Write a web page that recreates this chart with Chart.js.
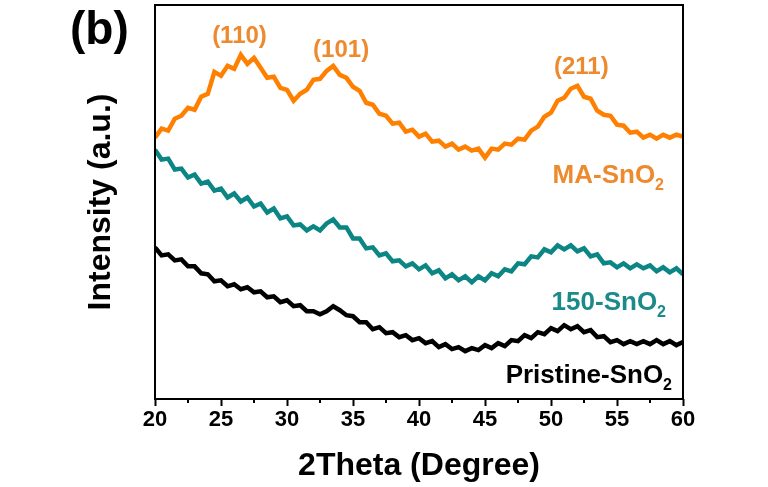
<!DOCTYPE html>
<html>
<head>
<meta charset="utf-8">
<script src="https://cdn.jsdelivr.net/npm/chart.js@4.4.1/dist/chart.umd.min.js"></script>
<style>
  html, body { margin: 0; padding: 0; background: #fff; }
  #wrap { width: 768px; height: 487px; }
</style>
</head>
<body>
<div id="wrap"><canvas id="xrdChart" width="768" height="487"></canvas></div>
<script>
'use strict';

// 2Theta grid (degree)
const twoTheta = [
  20, 20.5, 21, 21.5, 22, 22.5, 23, 23.5, 24, 24.5, 25, 25.5, 26, 26.5, 27, 27.5,
  28, 28.5, 29, 29.5, 30, 30.5, 31, 31.5, 32, 32.5, 33, 33.5, 34, 34.5, 35, 35.5,
  36, 36.5, 37, 37.5, 38, 38.5, 39, 39.5, 40, 40.5, 41, 41.5, 42, 42.5, 43, 43.5,
  44, 44.5, 45, 45.5, 46, 46.5, 47, 47.5, 48, 48.5, 49, 49.5, 50, 50.5, 51, 51.5,
  52, 52.5, 53, 53.5, 54, 54.5, 55, 55.5, 56, 56.5, 57, 57.5, 58, 58.5, 59, 59.5, 60
];

// intensity (a.u., stacked offsets)
const maSnO2 = [
  262, 271, 269, 281, 284, 292, 290, 303, 306, 328, 324, 334, 331, 345, 336, 342,
  332, 322, 323, 312, 310, 299, 306, 310, 320, 321, 329, 334, 325, 322, 313, 309,
  297, 295, 286, 284, 276, 277, 268, 270, 263, 266, 258, 259, 253, 256, 250, 253,
  249, 251, 242, 251, 250, 256, 255, 261, 260, 269, 273, 283, 287, 299, 302, 311,
  314, 303, 301, 289, 285, 284, 275, 274, 267, 268, 262, 265, 261, 265, 262, 265, 263
];

const snO2_150 = [
  250, 240, 241, 230, 231, 222, 225, 216, 218, 209, 211, 202, 206, 198, 202, 193,
  196, 187, 191, 181, 183, 174, 175, 169, 173, 169, 176, 180, 172, 172, 161, 161,
  151, 152, 144, 146, 138, 139, 133, 136, 130, 134, 126, 129, 121, 125, 119, 123,
  117, 123, 119, 126, 123, 130, 128, 136, 135, 143, 142, 150, 147, 154, 150, 154,
  148, 151, 143, 145, 136, 137, 132, 136, 131, 135, 131, 134, 128, 132, 127, 131, 125
];

const pristineSnO2 = [
  152, 144, 145, 139, 140, 133, 133, 126, 125, 118, 119, 113, 115, 110, 112, 107,
  108, 102, 103, 97, 99, 93, 94, 88, 88, 85, 88, 93, 89, 84, 83, 77,
  77, 70, 72, 66, 67, 62, 64, 59, 61, 56, 58, 52, 55, 50, 52, 48,
  51, 49, 54, 51, 56, 53, 59, 58, 64, 61, 67, 65, 71, 68, 74, 70,
  73, 67, 69, 62, 63, 57, 59, 55, 58, 55, 58, 55, 59, 55, 58, 54, 57
];

const xTickLabels = [20, 25, 30, 35, 40, 45, 50, 55, 60];
const minorTicks = [22.5, 27.5, 32.5, 37.5, 42.5, 47.5, 52.5, 57.5];

const FONT = '"Liberation Sans", Arial, sans-serif';
const ORANGE = '#ff8000';
const TEAL = '#0c8585';

function toPoints(values) {
  return values.map((v, i) => ({ x: twoTheta[i], y: v }));
}

// text with a subscript "2" at the end, right aligned
function drawSubText(ctx, main, sub, right, y, size, color) {
  ctx.save();
  ctx.fillStyle = color;
  ctx.textBaseline = 'alphabetic';
  ctx.font = 'bold ' + size + 'px ' + FONT;
  const w1 = ctx.measureText(main).width;
  ctx.font = 'bold ' + Math.round(size * 0.6) + 'px ' + FONT;
  const w2 = ctx.measureText(sub).width;
  const left = right - w1 - w2;
  ctx.font = 'bold ' + size + 'px ' + FONT;
  ctx.textAlign = 'left';
  ctx.fillText(main, left, y);
  ctx.font = 'bold ' + Math.round(size * 0.6) + 'px ' + FONT;
  ctx.fillText(sub, left + w1, y + size * 0.28);
  ctx.restore();
}

const decor = {
  id: 'decor',
  afterDatasetsDraw(chart) {
    const { ctx, chartArea: a, scales: { x, y } } = chart;
    ctx.save();
    // frame
    ctx.strokeStyle = '#000';
    ctx.lineWidth = 2;
    ctx.strokeRect(a.left, a.top, a.right - a.left, a.bottom - a.top);
    // minor ticks
    minorTicks.forEach(v => {
      const px = x.getPixelForValue(v);
      ctx.beginPath();
      ctx.moveTo(px, a.bottom);
      ctx.lineTo(px, a.bottom + 4);
      ctx.stroke();
    });
    // peak indices
    ctx.fillStyle = '#ee8a2e';
    ctx.font = 'bold 24px ' + FONT;
    ctx.textAlign = 'center';
    ctx.textBaseline = 'middle';
    [['(110)', 26.4, 364], ['(101)', 34.1, 350], ['(211)', 52.3, 332]].forEach(([t, vx, vy]) => {
      ctx.fillText(t, x.getPixelForValue(vx), y.getPixelForValue(vy));
    });
    // panel letter
    ctx.fillStyle = '#000';
    ctx.font = 'bold 46px ' + FONT;
    ctx.textAlign = 'left';
    ctx.textBaseline = 'alphabetic';
    ctx.fillText('(b)', 70, 44);
    ctx.restore();
    // sample names
    drawSubText(ctx, 'MA-SnO', '2', 664, 183, 26, '#ee8a2e');
    drawSubText(ctx, '150-SnO', '2', 666, 310, 26, '#1a8a8a');
    drawSubText(ctx, 'Pristine-SnO', '2', 672, 383, 26, '#000');
  }
};

const xrdConfig = {
  type: 'line',
  data: {
    datasets: [
      { label: 'MA-SnO2', data: toPoints(maSnO2), borderColor: ORANGE },
      { label: '150-SnO2', data: toPoints(snO2_150), borderColor: TEAL },
      { label: 'Pristine-SnO2', data: toPoints(pristineSnO2), borderColor: '#000' }
    ]
  },
  options: {
    responsive: false,
    animation: false,
    layout: { padding: { left: 0, right: 85, top: 5, bottom: 0 } },
    elements: {
      point: { radius: 0 },
      line: { borderWidth: 4.5, tension: 0, borderJoinStyle: 'miter' }
    },
    plugins: {
      legend: { display: false },
      tooltip: { enabled: false }
    },
    scales: {
      x: {
        type: 'linear',
        min: 20,
        max: 60,
        afterBuildTicks: scale => { scale.ticks = xTickLabels.map(v => ({ value: v })); },
        afterFit: scale => { scale.height = 88; },
        grid: { drawOnChartArea: false, drawTicks: true, tickLength: 7, tickWidth: 2, tickColor: '#000' },
        border: { display: false },
        ticks: {
          color: '#000',
          padding: 1,
          maxRotation: 0,
          font: { family: FONT, size: 22, weight: 'bold' }
        },
        title: {
          display: true,
          text: '2Theta (Degree)',
          color: '#000',
          padding: { top: 0, bottom: 2 },
          font: { family: FONT, size: 32, weight: 'bold' }
        }
      },
      y: {
        min: 0,
        max: 395,
        afterFit: scale => { scale.width = 155; },
        grid: { display: false },
        border: { display: false },
        ticks: { display: false },
        title: {
          display: true,
          text: 'Intensity (a.u.)',
          color: '#000',
          padding: { top: 82, bottom: 0 },
          font: { family: FONT, size: 32, weight: 'bold' }
        }
      }
    }
  },
  plugins: [decor]
};

const xrdChart = new Chart(document.getElementById('xrdChart'), xrdConfig);
</script>
</body>
</html>
